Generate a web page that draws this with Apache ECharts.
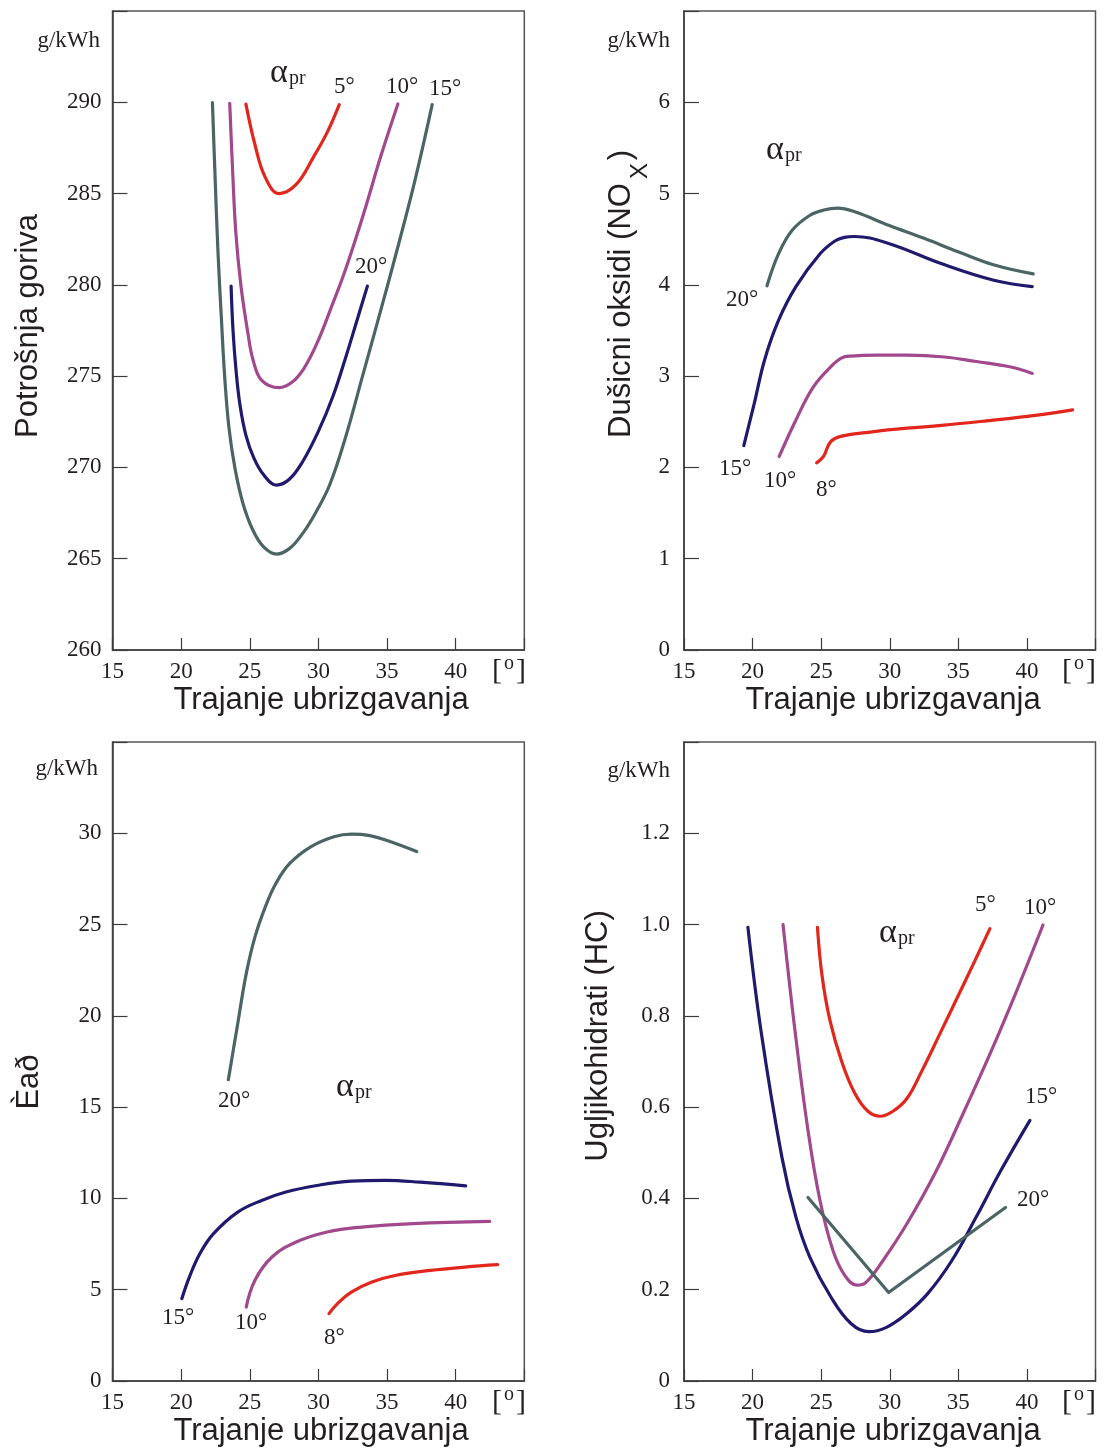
<!DOCTYPE html>
<html><head><meta charset="utf-8">
<script src="https://cdn.jsdelivr.net/npm/echarts@6/dist/echarts.min.js"></script>
<style>html,body{margin:0;padding:0;background:#fff}#c{width:1104px;height:1452px}</style>
</head><body><div id="c"></div>
<script>
// ---------- axis ranges ----------
var xRange = [15, 45, 5];          // min, max, interval (all panels)
var fuelRange = [260, 295, 5];
var noxRange = [0, 7, 1];
var coRange = [0, 35, 5];
var hcRange = [0, 1.4, 0.2];

// ---------- panel 1: fuel consumption (g/kWh) ----------
var fuel5 = [[24.72,289.9],[25.37,287.7],[26.12,285.9],[27.13,285.0],[28.38,285.5],[29.64,287.0],[30.64,288.35],[31.52,289.87]];
var fuel10 = [[23.54,289.94],[23.74,286.44],[23.99,282.8],[24.37,279.87],[24.87,277.33],[25.25,275.86],[25.87,274.77],[27.13,274.37],[28.07,274.66],[28.95,275.43],[29.89,276.79],[30.91,278.71],[32.0,280.9],[33.32,283.96],[34.56,287.08],[35.79,289.91]];
var fuel15 = [[22.28,289.98],[22.47,285.98],[22.68,281.88],[22.94,278.05],[23.19,274.77],[23.49,272.14],[23.92,269.96],[24.5,268.04],[25.23,266.56],[26.03,265.63],[26.95,265.25],[27.93,265.58],[28.87,266.4],[29.82,267.55],[30.84,269.08],[32.0,271.71],[33.17,274.88],[34.48,278.44],[35.72,281.88],[37.03,285.71],[38.29,289.87]];
var fuel20 = [[23.64,279.93],[23.78,277.5],[24.0,275.32],[24.29,273.4],[24.72,271.76],[25.31,270.5],[26.04,269.57],[26.95,269.03],[27.88,269.35],[28.87,270.34],[29.97,271.93],[31.06,273.9],[32.01,276.08],[32.81,278.05],[33.57,279.93]];

// ---------- panel 2: NOx ----------
var nox20 = [[21.05,3.99],[21.89,4.34],[22.9,4.6],[24.16,4.76],[25.2,4.82],[26.19,4.84],[27.45,4.80],[29.97,4.65],[32.5,4.51],[35.03,4.36],[37.56,4.22],[40.46,4.12]];
var nox15 = [[19.36,2.24],[20.12,2.70],[20.88,3.18],[21.89,3.61],[23.16,3.98],[24.92,4.34],[26.0,4.48],[26.69,4.52],[27.45,4.53],[29.97,4.45],[33.79,4.23],[37.58,4.05],[40.39,3.98]];
var nox10 = [[21.94,2.12],[23.16,2.52],[24.42,2.88],[25.68,3.10],[26.5,3.2],[27.2,3.22],[29.0,3.23],[31.24,3.23],[34.0,3.21],[36.3,3.16],[38.82,3.10],[40.39,3.03]];
var nox8 = [[24.67,2.05],[25.17,2.12],[25.68,2.28],[26.43,2.34],[28.71,2.39],[31.24,2.43],[33.77,2.46],[37.05,2.51],[40.6,2.57],[43.33,2.63]];

// ---------- panel 3 ----------
var co20 = [[23.44,16.5],[24.12,19.56],[24.74,22.3],[25.37,24.3],[26.12,25.94],[26.88,27.22],[27.88,28.32],[29.38,29.23],[31.13,29.81],[32.44,29.95],[33.75,29.87],[35.06,29.59],[37.16,29.0]];
var co15 = [[20.05,4.51],[20.6,5.69],[21.36,6.97],[22.36,8.07],[24.12,9.25],[25.87,9.89],[27.63,10.35],[29.89,10.71],[32.4,10.95],[34.91,10.99],[37.42,10.89],[40.73,10.69]];
var co10 = [[24.74,4.05],[25.37,5.51],[26.62,6.79],[28.38,7.61],[30.64,8.16],[33.15,8.43],[36.92,8.62],[42.48,8.74]];
var co8 = [[30.77,3.69],[31.39,4.24],[32.4,4.87],[33.9,5.42],[35.66,5.79],[38.17,6.06],[40.67,6.24],[43.06,6.37]];

// ---------- panel 4: HC ----------
var hc15 = [[19.66,0.994],[20.61,0.768],[22.14,0.49],[23.16,0.359],[24.18,0.271],[25.71,0.184],[27.17,0.126],[28.48,0.108],[29.72,0.117],[31.25,0.148],[32.78,0.192],[34.53,0.264],[36.28,0.358],[38.1,0.461],[40.22,0.571]];
var hc10 = [[22.22,1.0],[23.09,0.768],[24.04,0.549],[24.91,0.396],[25.86,0.286],[26.73,0.231],[27.61,0.21],[28.27,0.216],[29.51,0.264],[31.26,0.345],[33.3,0.455],[35.26,0.58],[37.3,0.716],[39.2,0.851],[41.17,0.999]];
var hc5 = [[24.73,0.994],[25.06,0.889],[25.64,0.79],[26.52,0.698],[27.46,0.63],[28.41,0.591],[29.29,0.58],[30.23,0.591],[31.25,0.619],[32.35,0.68],[33.66,0.761],[34.97,0.843],[36.21,0.921],[37.3,0.991]];
var hc20 = [[24.04,0.402],[29.92,0.194],[38.44,0.38]];

// ---------- texts ----------
var xTitle = 'Trajanje ubrizgavanja';
var yTitles = ['Potrošnja goriva', 'Dušicni oksidi (NO', 'Èað', 'Ugljikohidrati (HC)'];
var unitText = 'g/kWh';
var alphaText = 'α', alphaSub = 'pr';

var C = {red:'#e2261c', mag:'#a2488c', navy:'#1f1a6d', gray:'#4b6464'};
var SERIF = '"Liberation Serif","Times New Roman",serif';
var SANS = '"Liberation Sans",Arial,sans-serif';
var INK = '#231f20';

var grids = [
  {left:112.5, top:11, width:411.8, height:639},
  {left:684, top:11, width:411.5, height:639},
  {left:112.5, top:742, width:411.8, height:639},
  {left:684, top:742, width:411.5, height:639}
];

function xAx(i){
  return {type:'value', gridIndex:i, min:xRange[0], max:xRange[1], interval:xRange[2],
    axisLine:{show:true, onZero:false, lineStyle:{color:'#3c3c3c', width:1.5}},
    axisTick:{show:true, inside:true, length:12, lineStyle:{color:'#3c3c3c', width:1.2}},
    splitLine:{show:false},
    axisLabel:{margin:10, fontFamily:SERIF, fontSize:23, color:INK,
      formatter:function(v){return v>=xRange[1]?'':String(v);}}};
}
function yAx(i, r, margin, fmt){
  return {type:'value', gridIndex:i, min:r[0], max:r[1], interval:r[2],
    axisLine:{show:true, onZero:false, lineStyle:{color:'#3c3c3c', width:1.5}},
    axisTick:{show:true, inside:true, length:15, lineStyle:{color:'#3c3c3c', width:1.2}},
    splitLine:{show:false},
    axisLabel:{margin:margin, fontFamily:SERIF, fontSize:23, color:INK,
      formatter:function(v){ if (v >= r[1]-1e-9) return ''; return fmt ? fmt(v) : String(v);}}};
}
function line(i, data, color, smooth){
  return {type:'line', xAxisIndex:i, yAxisIndex:i, data:data, showSymbol:false, symbol:'none',
    smooth: smooth===false ? false : 0.4, silent:true, animation:false,
    lineStyle:{color:color, width:3.2, cap:'round', join:'round'}};
}
function T(x, y, text, size, family, align, vAlign, rot){
  return {type:'text', x:x, y:y, rotation:rot||0, z:100, silent:true,
    style:{text:text, fontSize:size, fontFamily:family, fill:INK,
      align:align, verticalAlign:vAlign, textAlign:align, textVerticalAlign:vAlign}};
}
function alpha(x, y){
  return [T(x, y, alphaText, 34, SERIF, 'left', 'middle'), T(x+19, y+6, alphaSub, 20, SERIF, 'left', 'middle')];
}
function bracket(cx, cy){
  return [T(cx-17, cy, '[', 30, SERIF, 'left', 'middle'), T(cx+17, cy, ']', 30, SERIF, 'right', 'middle'),
          T(cx, cy-7, 'o', 20, SERIF, 'center', 'middle')];
}
var R = Math.PI/2;
var graphics = [].concat(
  // panel 1
  [T(100, 41, unitText, 23, SERIF, 'right', 'middle'),
   T(334, 87, '5°', 23, SERIF, 'left', 'middle'),
   T(386, 87, '10°', 23, SERIF, 'left', 'middle'),
   T(429, 89, '15°', 23, SERIF, 'left', 'middle'),
   T(355, 267, '20°', 23, SERIF, 'left', 'middle'),
   T(321, 700, xTitle, 31, SANS, 'center', 'middle'),
   T(28, 326, yTitles[0], 31, SANS, 'center', 'middle', R)],
  alpha(270, 73), bracket(509, 671),
  // panel 2
  [T(670, 41, unitText, 23, SERIF, 'right', 'middle'),
   T(726, 300, '20°', 23, SERIF, 'left', 'middle'),
   T(719, 469, '15°', 23, SERIF, 'left', 'middle'),
   T(764, 481, '10°', 23, SERIF, 'left', 'middle'),
   T(816, 490, '8°', 23, SERIF, 'left', 'middle'),
   T(893, 700, xTitle, 31, SANS, 'center', 'middle'),
   T(621, 438, yTitles[1], 31, SANS, 'left', 'middle', R),
   T(640, 171, 'X', 24, SANS, 'center', 'middle', R),
   T(621, 155, ')', 31, SANS, 'center', 'middle', R)],
  alpha(766, 150), bracket(1079, 671),
  // panel 3
  [T(98, 769, unitText, 23, SERIF, 'right', 'middle'),
   T(218, 1101, '20°', 23, SERIF, 'left', 'middle'),
   T(162, 1318, '15°', 23, SERIF, 'left', 'middle'),
   T(235, 1323, '10°', 23, SERIF, 'left', 'middle'),
   T(324, 1338, '8°', 23, SERIF, 'left', 'middle'),
   T(321, 1431, xTitle, 31, SANS, 'center', 'middle'),
   T(29, 1082, yTitles[2], 31, SANS, 'center', 'middle', R)],
  alpha(336, 1087), bracket(509, 1402),
  // panel 4
  [T(670, 771, unitText, 23, SERIF, 'right', 'middle'),
   T(975, 905, '5°', 23, SERIF, 'left', 'middle'),
   T(1024, 908, '10°', 23, SERIF, 'left', 'middle'),
   T(1025, 1097, '15°', 23, SERIF, 'left', 'middle'),
   T(1017, 1200, '20°', 23, SERIF, 'left', 'middle'),
   T(893, 1431, xTitle, 31, SANS, 'center', 'middle'),
   T(598, 1036, yTitles[3], 31, SANS, 'center', 'middle', R)],
  alpha(879, 933), bracket(1079, 1402)
);

var chart = echarts.init(document.getElementById('c'), null, {renderer:'canvas'});
chart.setOption({
  animation:false,
  backgroundColor:'#ffffff',
  grid: grids.map(function(g){ return Object.assign({show:true, borderColor:'#555', borderWidth:1.5, containLabel:false, outerBoundsMode:'none'}, g); }),
  xAxis:[xAx(0), xAx(1), xAx(2), xAx(3)],
  yAxis:[
    yAx(0, fuelRange, 11),
    yAx(1, noxRange, 14),
    yAx(2, coRange, 11),
    yAx(3, hcRange, 14, function(v){ return v===0 ? '0' : v.toFixed(1); })
  ],
  series:[
    line(0, fuel15, C.gray), line(0, fuel10, C.mag), line(0, fuel5, C.red), line(0, fuel20, C.navy),
    line(1, nox20, C.gray), line(1, nox15, C.navy), line(1, nox10, C.mag), line(1, nox8, C.red),
    line(2, co20, C.gray), line(2, co15, C.navy), line(2, co10, C.mag), line(2, co8, C.red),
    line(3, hc15, C.navy), line(3, hc10, C.mag), line(3, hc5, C.red), line(3, hc20, C.gray, false)
  ],
  graphic: graphics
});
</script>
</body></html>
